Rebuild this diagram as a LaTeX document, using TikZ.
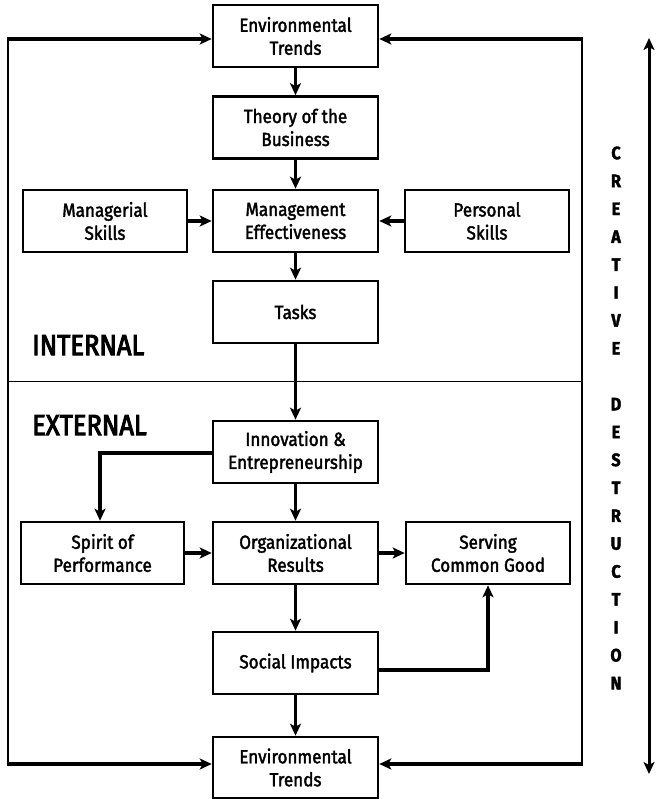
\documentclass[tikz,border=0pt]{standalone}
\usepackage{fontspec}
\setmainfont{Fira Sans}[FakeStretch=0.9,FakeBold=2]
\newfontfamily\zonefont{Fira Sans}[FakeStretch=0.88,FakeBold=3.5]
\usetikzlibrary{arrows.meta,calc}
\begin{document}
\begin{tikzpicture}[x=1pt,y=-1pt,
  box/.style={draw,line width=2.6pt,minimum width=165pt,minimum height=62pt,
    align=center,inner sep=0pt,font=\fontsize{19}{23}\selectfont},
  conn/.style={line width=3.4pt,-{Stealth[length=12pt,width=11pt,inset=3pt]}},
  frame/.style={line width=1.4pt},
  zone/.style={anchor=base west,inner sep=0pt,font=\zonefont\fontsize{29}{30}\selectfont},
  letter/.style={inner sep=0pt,font=\bfseries\fontsize{18}{20}\selectfont}]
\useasboundingbox (0,0) rectangle (656,799);

% boxes
\node[box] (envT)   at (295.5,36)  {Environmental\\Trends};
\node[box] (theory) at (295.5,127.5) {Theory of the\\Business};
\node[box] (mgmt)   at (295.5,221) {Management\\Effectiveness};
\node[box,minimum width=164pt] (manag) at (105,221) {Managerial\\Skills};
\node[box,minimum width=164pt] (pers)  at (487,221) {Personal\\Skills};
\node[box] (tasks)  at (295.5,312) {Tasks};
\node[box] (innov)  at (295.5,452) {Innovation \&\\Entrepreneurship};
\node[box,minimum width=163pt] (spirit) at (102.5,553) {Spirit of\\Performance};
\node[box] (org)    at (295.5,553) {Organizational\\Results};
\node[box,minimum width=164pt] (serv) at (488,553) {Serving\\Common Good};
\node[box] (social) at (295.5,663) {Social Impacts};
\node[box,minimum height=61pt] (envB) at (295.5,767.5) {Environmental\\Trends};

% zone labels
\node[zone] (internal) at (32,355) {INTERNAL};
\node[zone] (external) at (32,435) {EXTERNAL};

% frame
\coordinate (tl) at (8,39);
\coordinate (tr) at (582,39);
\coordinate (bl) at (8,764);
\coordinate (br) at (582,764);
\coordinate (dl) at (8,381);
\coordinate (dr) at (582,381);
\draw[frame] (tl) -- (bl);
\draw[frame] (tr) -- (br);
\draw[line width=1pt] (dl) -- (dr);
\draw[conn] ([xshift=-0.7pt]tl) -- (tl -| envT.west);
\draw[conn] ([xshift=0.7pt]tr) -- (tr -| envT.east);
\draw[conn] ([xshift=-0.7pt]bl) -- (bl -| envB.west);
\draw[conn] ([xshift=0.7pt]br) -- (br -| envB.east);

% connectors
\draw[conn] (envT) -- (theory);
\draw[conn] (theory) -- (mgmt);
\draw[conn] (manag) -- (mgmt);
\draw[conn] (pers) -- (mgmt);
\draw[conn] (mgmt) -- (tasks);
\draw[conn] (tasks) -- (innov);
\draw[conn] (innov) -- (org);
\draw[conn] ([yshift=-1pt]innov.west) -| ([xshift=-2.5pt]spirit.north);
\draw[conn] (spirit) -- (org);
\draw[conn] (org) -- (serv);
\draw[conn] (org) -- (social);
\draw[conn] ([yshift=-7pt]social.east) -| (serv.south);
\draw[conn] (social) -- (envB);

% creative destruction
\coordinate (cdtop) at (649,38);
\coordinate (cdbot) at (649,774);
\draw[line width=3pt,{Stealth[length=12pt,width=11pt,inset=3pt]}-{Stealth[length=12pt,width=11pt,inset=3pt]}] (cdtop) -- (cdbot);
\foreach \l [count=\i from 0] in {C,R,E,A,T,I,V,E,{},D,E,S,T,R,U,C,T,I,O,N}
  \node[letter] (l\i) at (616,{153+27.9*\i}) {\l};
\end{tikzpicture}
\end{document}
